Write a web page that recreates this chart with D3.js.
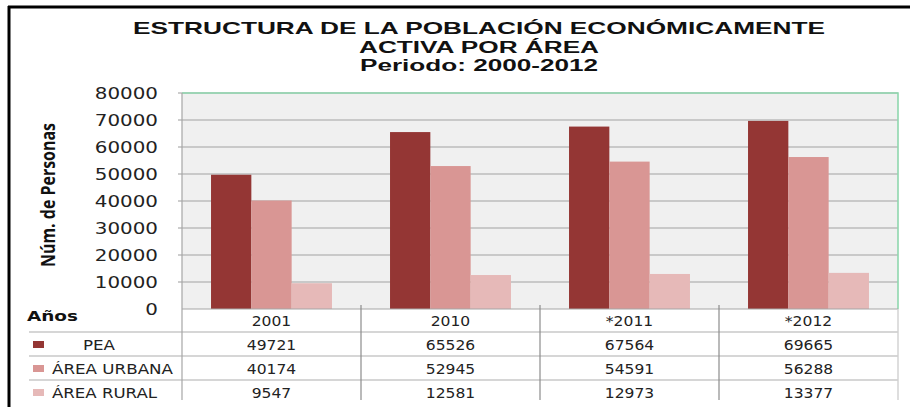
<!DOCTYPE html>
<html><head><meta charset="utf-8">
<script src="https://cdn.jsdelivr.net/npm/d3@7"></script>
<style>body{margin:0;background:#fff}svg{display:block}</style>
</head><body><svg id="c" width="920" height="407"></svg>
<script>
const categories = ["2001", "2010", "*2011", "*2012"];
const seriesNames = ["PEA", "ÁREA URBANA", "ÁREA RURAL"];
const pea = [49721, 65526, 67564, 69665];
const urbana = [40174, 52945, 54591, 56288];
const rural = [9547, 12581, 12973, 13377];
const yTicks = [0, 10000, 20000, 30000, 40000, 50000, 60000, 70000, 80000];
const titleLines = ["ESTRUCTURA DE LA POBLACIÓN ECONÓMICAMENTE", "ACTIVA POR ÁREA", "Periodo: 2000-2012"];
const yTitle = "Núm. de Personas";
const rowHeader = "Años";

const seriesValues = [pea, urbana, rural];
const colors = ["#943634", "#d99694", "#e6b9b8"];

const svg = d3.select("#c");
const L = 182, R = 898, T = 93, B = 309;
const rowH = 24;
const tableLeft = 29;

function stretch(sel, k) {
  sel.each(function () {
    const w = this.getComputedTextLength();
    this.setAttribute("textLength", w * k);
    this.setAttribute("lengthAdjust", "spacingAndGlyphs");
  });
}
function fitTo(sel, w) {
  sel.attr("textLength", w).attr("lengthAdjust", "spacingAndGlyphs");
}

const x = d3.scaleBand().domain(categories).range([L, R]).paddingInner(0).paddingOuter(0);
const x1 = d3.scaleBand().domain(seriesNames).range([0, x.bandwidth()]).paddingInner(0).paddingOuter(0.72);
const y = d3.scaleLinear().domain([0, 80000]).range([B, T]);

// outer frame
svg.append("line").attr("x1", 8).attr("x2", 910).attr("y1", 7).attr("y2", 7).attr("stroke", "#000").attr("stroke-width", 3);
svg.append("line").attr("x1", 9).attr("x2", 9).attr("y1", 6).attr("y2", 407).attr("stroke", "#000").attr("stroke-width", 3);

// title
const tWidths = [692, 240, 238];
const tBase = [34, 53, 71];
const tSize = [17, 16, 16];
titleLines.forEach((t, i) => {
  svg.append("text").attr("x", 479).attr("y", tBase[i]).attr("text-anchor", "middle")
    .attr("font-family", "Liberation Sans, Arial, sans-serif").attr("font-weight", "bold")
    .attr("font-size", tSize[i]).attr("fill", "#111").text(t).call(fitTo, tWidths[i]);
});

// plot background
svg.append("rect").attr("x", L).attr("y", T).attr("width", R - L).attr("height", B - T).attr("fill", "#f0f0f0");

// gridlines
svg.append("g").selectAll("line").data(yTicks.filter(d => d > 0)).join("line")
  .attr("x1", L - 4).attr("x2", R).attr("y1", d => y(d)).attr("y2", d => y(d))
  .attr("stroke", "#bdbdbd").attr("stroke-width", 1.6);

// green border top and right
svg.append("path").attr("d", `M${L},${T}H${R}V${B}`).attr("fill", "none").attr("stroke", "#8fd7ae").attr("stroke-width", 1.6);

// bars
const g = svg.append("g");
categories.forEach((c, ci) => {
  seriesNames.forEach((s, si) => {
    const v = seriesValues[si][ci];
    g.append("rect").attr("x", x(c) + x1(s)).attr("width", x1.bandwidth())
      .attr("y", y(v)).attr("height", y(0) - y(v)).attr("fill", colors[si]);
  });
});

// y tick labels
const yl = svg.append("g").selectAll("text").data(yTicks).join("text")
  .attr("x", 158).attr("y", d => y(d) + 6).attr("text-anchor", "end")
  .attr("font-family", "DejaVu Sans, Verdana, sans-serif").attr("font-size", 16).attr("fill", "#222")
  .text(d => d);
stretch(yl, 1.24);

// y title
svg.append("text").attr("transform", "translate(55,195) rotate(-90)").attr("text-anchor", "middle")
  .attr("font-family", "Liberation Sans Narrow, Open Sans, sans-serif").attr("font-weight", "bold")
  .attr("font-size", 19).attr("fill", "#111").text(yTitle).call(fitTo, 144);

// table lines
const tableBottom = B + rowH * 4 - 5;
svg.append("line").attr("x1", L).attr("x2", R).attr("y1", B).attr("y2", B).attr("stroke", "#a6a6a6").attr("stroke-width", 1.2);
[1, 2, 3].forEach(r => {
  svg.append("line").attr("x1", tableLeft).attr("x2", R).attr("y1", B + 23 + (r - 1) * rowH).attr("y2", B + 23 + (r - 1) * rowH)
    .attr("stroke", "#c8c8c8").attr("stroke-width", 1.4);
});
svg.append("line").attr("x1", L).attr("x2", L).attr("y1", T).attr("y2", tableBottom).attr("stroke", "#a6a6a6").attr("stroke-width", 1.2);
categories.slice(1).forEach(c => {
  svg.append("line").attr("x1", x(c)).attr("x2", x(c)).attr("y1", B - 4).attr("y2", tableBottom).attr("stroke", "#8c8c8c").attr("stroke-width", 1.2);
});
svg.append("line").attr("x1", R).attr("x2", R).attr("y1", B).attr("y2", tableBottom).attr("stroke", "#d0d0d0").attr("stroke-width", 1.4);

// header row
svg.append("text").attr("x", 27).attr("y", 321).attr("font-family", "DejaVu Sans, Verdana, sans-serif")
  .attr("font-weight", "bold").attr("font-size", 14.5).attr("fill", "#111").text(rowHeader).call(fitTo, 51);
const hdr = svg.append("g").selectAll("text").data(categories).join("text")
  .attr("x", d => x(d) + x.bandwidth() / 2).attr("y", B + 17).attr("text-anchor", "middle")
  .attr("font-family", "DejaVu Sans, Verdana, sans-serif").attr("font-size", 13.5).attr("fill", "#222").text(d => d);
stretch(hdr, 1.15);

// data rows
const labelX = [83, 52, 52];
const labelW = [32, 121, 105];
seriesNames.forEach((s, si) => {
  const top = B + 23 + si * rowH;
  svg.append("rect").attr("x", 33).attr("y", top + 9).attr("width", 11).attr("height", 7).attr("fill", colors[si]);
  svg.append("text").attr("x", labelX[si]).attr("y", top + 18)
    .attr("font-family", "DejaVu Sans, Verdana, sans-serif").attr("font-size", 13.5).attr("fill", "#222")
    .text(s).call(fitTo, labelW[si]);
  const t = svg.append("g").selectAll("text").data(seriesValues[si]).join("text")
    .attr("x", (d, i) => x(categories[i]) + x.bandwidth() / 2).attr("y", top + 18).attr("text-anchor", "middle")
    .attr("font-family", "DejaVu Sans, Verdana, sans-serif").attr("font-size", 13.5).attr("fill", "#222").text(d => d);
  stretch(t, 1.15);
});
</script></body></html>
